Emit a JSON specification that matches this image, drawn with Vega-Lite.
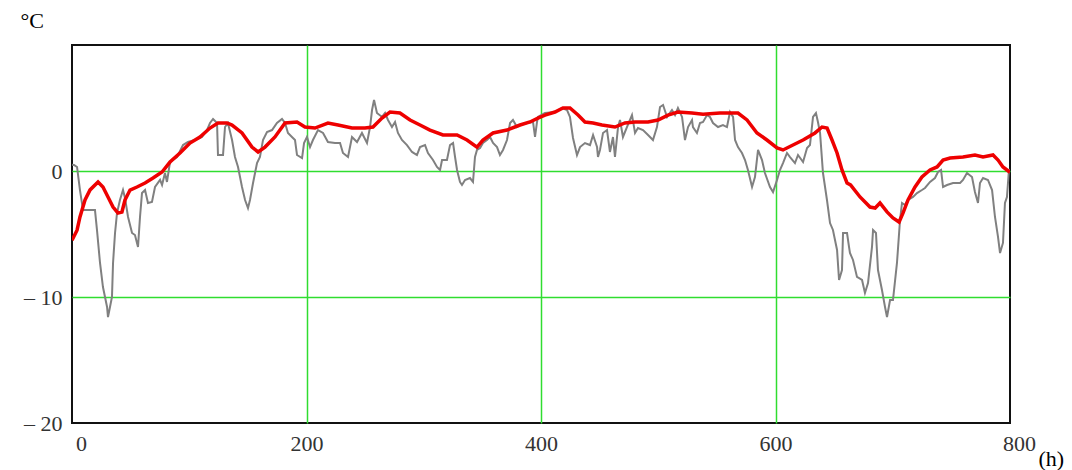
{
  "$schema": "https://vega.github.io/schema/vega-lite/v6.json",
  "width": 938,
  "height": 378,
  "autosize": {"type": "none"},
  "padding": {"left": 72, "top": 45, "right": 62, "bottom": 47},
  "background": "white",
  "config": {
    "view": {"stroke": "#111", "strokeWidth": 2},
    "font": "Liberation Serif"
  },
  "datasets": {
    "measured": [
      {"h": 0, "t": 0.5}, {"h": 1.7, "t": 0.48}, {"h": 4.3, "t": 0.32}, {"h": 6.8, "t": -1.51}, {"h": 9.4, "t": -3.1}, {"h": 11.9, "t": -3.1}, {"h": 19.6, "t": -3.1}, {"h": 21.3, "t": -4.68}, {"h": 23.9, "t": -7.3}, {"h": 26.4, "t": -9.21}, {"h": 29.9, "t": -10.79}, {"h": 30.7, "t": -11.59}, {"h": 32.4, "t": -10.79}, {"h": 34.1, "t": -10.0}, {"h": 35.0, "t": -7.3}, {"h": 36.7, "t": -4.92}, {"h": 38.4, "t": -3.33}, {"h": 40.9, "t": -2.3}, {"h": 43.5, "t": -1.51}, {"h": 45.2, "t": -2.14}, {"h": 47.8, "t": -3.65}, {"h": 51.2, "t": -4.92}, {"h": 53.7, "t": -5.08}, {"h": 56.3, "t": -6.03}, {"h": 58.0, "t": -3.65}, {"h": 59.7, "t": -1.75}, {"h": 62.3, "t": -1.51}, {"h": 64.8, "t": -2.54}, {"h": 68.2, "t": -2.46}, {"h": 70.8, "t": -1.27}, {"h": 75.1, "t": -0.71}, {"h": 76.8, "t": -1.11}, {"h": 79.3, "t": -0.16}, {"h": 81.0, "t": -0.87}, {"h": 83.6, "t": 0.71}, {"h": 89.6, "t": 1.11}, {"h": 94.7, "t": 2.06}, {"h": 98.9, "t": 2.3}, {"h": 104.9, "t": 2.46}, {"h": 110.9, "t": 2.7}, {"h": 115.1, "t": 3.25}, {"h": 117.7, "t": 3.81}, {"h": 120.3, "t": 4.13}, {"h": 123.7, "t": 3.81}, {"h": 124.5, "t": 1.27}, {"h": 128.8, "t": 1.27}, {"h": 130.5, "t": 3.49}, {"h": 133.0, "t": 3.81}, {"h": 136.5, "t": 2.46}, {"h": 139.0, "t": 1.11}, {"h": 141.6, "t": 0.32}, {"h": 145.0, "t": -1.27}, {"h": 147.6, "t": -2.3}, {"h": 150.1, "t": -2.94}, {"h": 151.8, "t": -2.3}, {"h": 154.4, "t": -0.95}, {"h": 157.8, "t": 0.63}, {"h": 160.3, "t": 1.11}, {"h": 162.9, "t": 2.46}, {"h": 166.3, "t": 3.1}, {"h": 170.6, "t": 3.25}, {"h": 174.8, "t": 3.81}, {"h": 179.1, "t": 4.13}, {"h": 181.7, "t": 3.81}, {"h": 184.2, "t": 3.02}, {"h": 187.6, "t": 2.7}, {"h": 190.2, "t": 2.46}, {"h": 191.9, "t": 1.27}, {"h": 196.2, "t": 1.03}, {"h": 197.9, "t": 2.22}, {"h": 200.4, "t": 2.7}, {"h": 203.0, "t": 1.9}, {"h": 205.5, "t": 2.46}, {"h": 209.8, "t": 3.25}, {"h": 214.1, "t": 3.02}, {"h": 218.3, "t": 2.3}, {"h": 224.3, "t": 2.22}, {"h": 228.6, "t": 2.22}, {"h": 231.1, "t": 1.43}, {"h": 235.4, "t": 1.11}, {"h": 238.8, "t": 2.7}, {"h": 243.1, "t": 2.3}, {"h": 247.3, "t": 3.02}, {"h": 251.6, "t": 2.22}, {"h": 254.2, "t": 3.49}, {"h": 255.9, "t": 4.84}, {"h": 257.6, "t": 5.63}, {"h": 260.1, "t": 4.6}, {"h": 264.4, "t": 4.29}, {"h": 267.0, "t": 4.6}, {"h": 269.5, "t": 4.05}, {"h": 272.9, "t": 3.49}, {"h": 275.5, "t": 3.89}, {"h": 278.0, "t": 3.02}, {"h": 281.4, "t": 2.46}, {"h": 285.7, "t": 2.06}, {"h": 290.0, "t": 1.51}, {"h": 294.2, "t": 1.27}, {"h": 296.8, "t": 1.9}, {"h": 301.1, "t": 2.06}, {"h": 303.6, "t": 1.43}, {"h": 307.9, "t": 0.87}, {"h": 311.3, "t": 0.32}, {"h": 313.9, "t": 0.08}, {"h": 315.6, "t": 0.87}, {"h": 319.8, "t": 0.87}, {"h": 322.4, "t": 2.06}, {"h": 325.0, "t": 2.22}, {"h": 326.7, "t": 1.11}, {"h": 328.4, "t": 0.08}, {"h": 330.9, "t": -0.87}, {"h": 332.6, "t": -1.11}, {"h": 335.2, "t": -0.71}, {"h": 339.4, "t": -0.56}, {"h": 342.0, "t": -0.87}, {"h": 343.7, "t": 1.11}, {"h": 345.4, "t": 1.67}, {"h": 348.0, "t": 1.83}, {"h": 350.5, "t": 2.22}, {"h": 353.9, "t": 2.46}, {"h": 356.5, "t": 2.7}, {"h": 359.1, "t": 2.22}, {"h": 362.5, "t": 1.9}, {"h": 365.0, "t": 1.27}, {"h": 367.6, "t": 1.67}, {"h": 371.0, "t": 2.46}, {"h": 373.6, "t": 3.81}, {"h": 376.1, "t": 4.05}, {"h": 379.5, "t": 3.49}, {"h": 382.1, "t": 3.65}, {"h": 388.1, "t": 3.81}, {"h": 393.2, "t": 3.89}, {"h": 394.9, "t": 2.7}, {"h": 396.6, "t": 3.89}, {"h": 397.4, "t": 4.29}, {"h": 403.4, "t": 4.6}, {"h": 411.9, "t": 4.68}, {"h": 417.9, "t": 5.0}, {"h": 422.2, "t": 4.84}, {"h": 424.7, "t": 4.29}, {"h": 427.3, "t": 2.62}, {"h": 430.7, "t": 1.27}, {"h": 433.3, "t": 1.9}, {"h": 437.5, "t": 2.22}, {"h": 441.8, "t": 2.06}, {"h": 444.4, "t": 2.86}, {"h": 447.8, "t": 1.9}, {"h": 448.6, "t": 1.11}, {"h": 450.3, "t": 1.67}, {"h": 452.9, "t": 3.02}, {"h": 456.3, "t": 3.25}, {"h": 458.8, "t": 1.51}, {"h": 461.4, "t": 2.7}, {"h": 463.1, "t": 1.11}, {"h": 465.7, "t": 3.49}, {"h": 467.4, "t": 4.05}, {"h": 469.9, "t": 2.7}, {"h": 473.3, "t": 3.49}, {"h": 477.6, "t": 4.44}, {"h": 480.2, "t": 3.02}, {"h": 482.7, "t": 3.41}, {"h": 487.0, "t": 3.25}, {"h": 491.3, "t": 2.86}, {"h": 495.5, "t": 2.46}, {"h": 498.9, "t": 3.49}, {"h": 501.5, "t": 5.08}, {"h": 504.1, "t": 5.24}, {"h": 507.5, "t": 4.29}, {"h": 511.7, "t": 4.84}, {"h": 514.3, "t": 4.44}, {"h": 516.8, "t": 5.0}, {"h": 520.3, "t": 4.29}, {"h": 522.8, "t": 2.46}, {"h": 525.4, "t": 3.49}, {"h": 528.8, "t": 4.05}, {"h": 529.6, "t": 3.49}, {"h": 533.0, "t": 3.02}, {"h": 535.6, "t": 3.81}, {"h": 538.2, "t": 3.89}, {"h": 541.6, "t": 4.44}, {"h": 544.1, "t": 4.29}, {"h": 546.7, "t": 3.81}, {"h": 551.0, "t": 3.49}, {"h": 555.2, "t": 3.65}, {"h": 558.6, "t": 3.49}, {"h": 561.2, "t": 4.68}, {"h": 563.8, "t": 4.29}, {"h": 565.5, "t": 2.46}, {"h": 568.0, "t": 1.9}, {"h": 571.4, "t": 1.43}, {"h": 574.0, "t": 0.87}, {"h": 576.5, "t": 0.08}, {"h": 580.0, "t": -1.27}, {"h": 582.5, "t": -0.48}, {"h": 585.1, "t": 1.67}, {"h": 588.5, "t": 0.87}, {"h": 591.0, "t": -0.16}, {"h": 595.3, "t": -1.27}, {"h": 597.9, "t": -1.67}, {"h": 601.3, "t": -0.71}, {"h": 603.8, "t": 0.08}, {"h": 606.4, "t": 0.63}, {"h": 609.8, "t": 1.43}, {"h": 612.4, "t": 1.11}, {"h": 616.6, "t": 0.63}, {"h": 619.2, "t": 1.27}, {"h": 623.5, "t": 0.71}, {"h": 626.9, "t": 1.83}, {"h": 629.4, "t": 2.06}, {"h": 632.0, "t": 4.29}, {"h": 634.5, "t": 4.6}, {"h": 636.2, "t": 3.89}, {"h": 638.0, "t": 3.02}, {"h": 640.5, "t": -0.16}, {"h": 643.9, "t": -2.3}, {"h": 646.5, "t": -4.13}, {"h": 649.0, "t": -4.68}, {"h": 652.5, "t": -6.27}, {"h": 654.2, "t": -8.65}, {"h": 656.7, "t": -7.86}, {"h": 657.6, "t": -4.92}, {"h": 661.0, "t": -4.92}, {"h": 662.7, "t": -6.03}, {"h": 663.5, "t": -6.51}, {"h": 666.1, "t": -7.06}, {"h": 669.5, "t": -8.41}, {"h": 673.8, "t": -8.65}, {"h": 676.3, "t": -9.68}, {"h": 678.9, "t": -8.89}, {"h": 682.3, "t": -6.03}, {"h": 683.2, "t": -4.68}, {"h": 685.7, "t": -4.92}, {"h": 687.4, "t": -7.86}, {"h": 690.8, "t": -9.44}, {"h": 693.4, "t": -10.79}, {"h": 695.1, "t": -11.59}, {"h": 697.7, "t": -10.24}, {"h": 700.2, "t": -10.24}, {"h": 703.6, "t": -7.3}, {"h": 706.2, "t": -3.89}, {"h": 707.9, "t": -2.54}, {"h": 710.4, "t": -2.7}, {"h": 713.0, "t": -2.3}, {"h": 717.3, "t": -2.06}, {"h": 720.7, "t": -1.75}, {"h": 724.9, "t": -1.51}, {"h": 727.5, "t": -1.35}, {"h": 731.8, "t": -0.87}, {"h": 736.0, "t": -0.56}, {"h": 738.6, "t": -0.08}, {"h": 741.2, "t": 0.08}, {"h": 742.9, "t": -1.27}, {"h": 746.3, "t": -1.11}, {"h": 751.4, "t": -0.95}, {"h": 757.4, "t": -0.95}, {"h": 759.9, "t": -0.71}, {"h": 763.3, "t": -0.16}, {"h": 767.6, "t": -0.48}, {"h": 770.1, "t": -1.67}, {"h": 772.7, "t": -2.54}, {"h": 774.4, "t": -0.95}, {"h": 777.0, "t": -0.56}, {"h": 781.2, "t": -0.71}, {"h": 784.7, "t": -1.51}, {"h": 787.2, "t": -3.65}, {"h": 789.8, "t": -5.24}, {"h": 791.5, "t": -6.51}, {"h": 794.0, "t": -5.71}, {"h": 795.7, "t": -2.54}, {"h": 797.4, "t": -2.06}, {"h": 799.1, "t": 0.08}, {"h": 800, "t": 0.1}
    ],
    "smoothed": [
      {"h": 0, "t": -5.5}, {"h": 4.3, "t": -4.7}, {"h": 6.8, "t": -3.65}, {"h": 11.1, "t": -2.3}, {"h": 15.4, "t": -1.5}, {"h": 22.2, "t": -0.87}, {"h": 26.4, "t": -1.27}, {"h": 30.7, "t": -2.06}, {"h": 35.0, "t": -2.86}, {"h": 39.2, "t": -3.33}, {"h": 42.6, "t": -3.25}, {"h": 45.2, "t": -2.3}, {"h": 49.5, "t": -1.51}, {"h": 55.4, "t": -1.27}, {"h": 62.3, "t": -0.95}, {"h": 69.1, "t": -0.56}, {"h": 76.8, "t": -0.08}, {"h": 83.6, "t": 0.71}, {"h": 92.1, "t": 1.43}, {"h": 100.6, "t": 2.22}, {"h": 109.1, "t": 2.7}, {"h": 117.7, "t": 3.41}, {"h": 124.5, "t": 3.81}, {"h": 132.2, "t": 3.81}, {"h": 136.5, "t": 3.65}, {"h": 145.0, "t": 3.02}, {"h": 153.5, "t": 1.9}, {"h": 158.7, "t": 1.51}, {"h": 164.6, "t": 1.9}, {"h": 173.1, "t": 2.7}, {"h": 181.7, "t": 3.81}, {"h": 191.9, "t": 3.89}, {"h": 198.7, "t": 3.49}, {"h": 207.2, "t": 3.41}, {"h": 218.3, "t": 3.81}, {"h": 226.9, "t": 3.65}, {"h": 238.8, "t": 3.41}, {"h": 249.9, "t": 3.41}, {"h": 256.7, "t": 3.49}, {"h": 264.4, "t": 4.2}, {"h": 271.2, "t": 4.68}, {"h": 279.7, "t": 4.6}, {"h": 288.3, "t": 4.05}, {"h": 296.8, "t": 3.65}, {"h": 305.3, "t": 3.25}, {"h": 316.4, "t": 2.86}, {"h": 328.4, "t": 2.86}, {"h": 336.9, "t": 2.46}, {"h": 345.4, "t": 1.9}, {"h": 350.5, "t": 2.46}, {"h": 359.1, "t": 3.02}, {"h": 371.0, "t": 3.25}, {"h": 382.1, "t": 3.65}, {"h": 390.6, "t": 3.89}, {"h": 397.4, "t": 4.2}, {"h": 403.4, "t": 4.44}, {"h": 411.9, "t": 4.68}, {"h": 418.7, "t": 5.0}, {"h": 424.7, "t": 5.0}, {"h": 431.6, "t": 4.44}, {"h": 437.5, "t": 3.89}, {"h": 444.4, "t": 3.81}, {"h": 452.0, "t": 3.65}, {"h": 463.1, "t": 3.49}, {"h": 471.6, "t": 3.81}, {"h": 480.2, "t": 3.89}, {"h": 491.3, "t": 3.89}, {"h": 499.8, "t": 4.05}, {"h": 508.3, "t": 4.44}, {"h": 516.8, "t": 4.68}, {"h": 528.8, "t": 4.6}, {"h": 538.2, "t": 4.5}, {"h": 552.6, "t": 4.6}, {"h": 568.0, "t": 4.6}, {"h": 575.7, "t": 4.05}, {"h": 584.2, "t": 3.02}, {"h": 592.7, "t": 2.46}, {"h": 601.3, "t": 1.83}, {"h": 606.4, "t": 1.67}, {"h": 614.9, "t": 2.06}, {"h": 623.5, "t": 2.46}, {"h": 633.7, "t": 3.02}, {"h": 639.7, "t": 3.49}, {"h": 644.0, "t": 3.41}, {"h": 648.2, "t": 2.46}, {"h": 652.5, "t": 1.43}, {"h": 656.7, "t": 0.08}, {"h": 661.0, "t": -0.95}, {"h": 664.0, "t": -1.1}, {"h": 672.1, "t": -2.06}, {"h": 680.6, "t": -2.86}, {"h": 685.0, "t": -2.94}, {"h": 689.1, "t": -2.54}, {"h": 695.1, "t": -3.25}, {"h": 700.2, "t": -3.73}, {"h": 705.4, "t": -4.05}, {"h": 708.8, "t": -3.33}, {"h": 713.0, "t": -2.3}, {"h": 719.0, "t": -1.27}, {"h": 724.9, "t": -0.48}, {"h": 731.8, "t": 0.08}, {"h": 737.8, "t": 0.32}, {"h": 742.9, "t": 0.87}, {"h": 748.9, "t": 1.03}, {"h": 759.9, "t": 1.11}, {"h": 770.1, "t": 1.27}, {"h": 777.0, "t": 1.11}, {"h": 785.5, "t": 1.27}, {"h": 789.8, "t": 0.87}, {"h": 794.0, "t": 0.32}, {"h": 800, "t": -0.1}
    ]
  },
  "encoding": {
    "x": {
      "field": "h",
      "type": "quantitative",
      "scale": {"domain": [0, 800], "nice": false, "zero": false},
      "axis": {
        "values": [0, 200, 400, 600, 800],
        "title": "(h)",
        "titleFont": "Liberation Serif",
        "titleFontSize": 22,
        "titleFontWeight": "normal",
        "titleColor": "#000",
        "titleAlign": "left",
        "titleBaseline": "middle",
        "titleAnchor": null,
        "titleX": 966,
        "titleY": 35,
        "domain": false,
        "ticks": false,
        "labelFont": "Liberation Serif",
        "labelFontSize": 22,
        "labelColor": "#333",
        "labelPadding": 10,
        "labelFlush": false,
        "labelBound": false,
        "labelOverlap": false,
        "labelOffset": {"condition": {"test": "datum.value == 0 || datum.value == 800", "value": 9}, "value": 0},
        "grid": true,
        "gridColor": "#30dd30",
        "gridWidth": 1.5,
        "gridOpacity": {"condition": {"test": "datum.value == 0 || datum.value == 800", "value": 0}, "value": 1}
      }
    },
    "y": {
      "field": "t",
      "type": "quantitative",
      "scale": {"domain": [-20, 10], "nice": false, "zero": false},
      "axis": {
        "values": [-20, -10, 0],
        "labelExpr": "datum.value < 0 ? '–  ' + abs(datum.value) : datum.label",
        "title": "°C",
        "titleFont": "Liberation Serif",
        "titleFontSize": 22,
        "titleFontWeight": "normal",
        "titleColor": "#000",
        "titleAngle": 0,
        "titleAlign": "left",
        "titleBaseline": "middle",
        "titleAnchor": null,
        "titleX": -52,
        "titleY": -25,
        "domain": false,
        "ticks": false,
        "labelFont": "Liberation Serif",
        "labelFontSize": 22,
        "labelColor": "#333",
        "labelPadding": 10,
        "labelFlush": false,
        "labelBound": false,
        "labelOverlap": false,
        "grid": true,
        "gridColor": "#30dd30",
        "gridWidth": 1.5,
        "gridOpacity": {"condition": {"test": "datum.value == -20", "value": 0}, "value": 1}
      }
    }
  },
  "layer": [
    {
      "data": {"name": "measured"},
      "mark": {"type": "line", "color": "#808080", "strokeWidth": 2, "clip": true},
      "encoding": {}
    },
    {
      "data": {"name": "smoothed"},
      "mark": {"type": "line", "color": "#ee0000", "strokeWidth": 3.5, "clip": true},
      "encoding": {}
    }
  ]
}
